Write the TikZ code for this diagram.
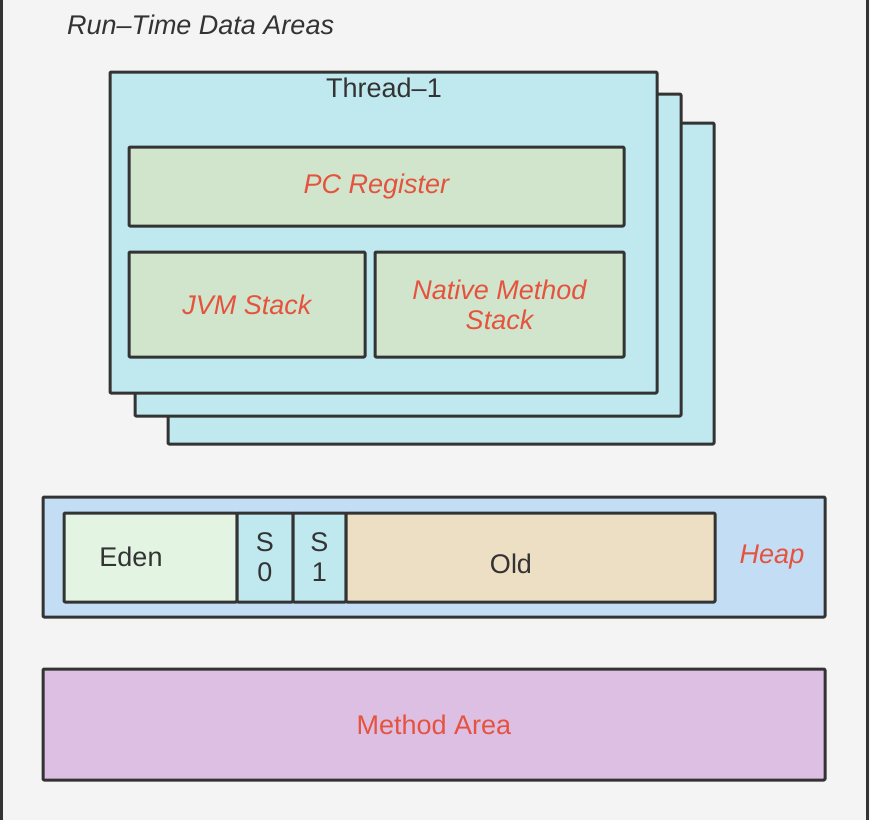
\documentclass[tikz,border=0pt]{standalone}
\usepackage{fontspec}
\setmainfont{Liberation Sans}
\definecolor{bgc}{HTML}{F4F4F4}
\definecolor{linec}{HTML}{333333}
\definecolor{threadc}{HTML}{BFE9EF}
\definecolor{regc}{HTML}{D0E5CC}
\definecolor{edenc}{HTML}{E3F4E3}
\definecolor{oldc}{HTML}{EDDFC4}
\definecolor{heapc}{HTML}{C3DDF5}
\definecolor{methc}{HTML}{DCBFE3}
\definecolor{redc}{HTML}{E5533F}
\tikzset{
  box/.style={draw=linec, line width=3pt, rounded corners=1pt, inner sep=0pt},
  txt/.style={text=linec, font=\fontsize{27}{30}\selectfont, align=center, inner sep=0pt},
  redtxt/.style={txt, text=redc},
  ittxt/.style={redtxt, font=\fontsize{27}{30}\selectfont\itshape},
}
\begin{document}
\begin{tikzpicture}[x=1pt, y=-1pt, line join=round]
	\fill[bgc] (0,0) rectangle (870,820);
	\useasboundingbox (0,0) rectangle (870,820);
	\draw[linec, line width=3pt] (1.5,0)--(1.5,820);
	\draw[linec, line width=3pt] (867,0)--(867,820);
	\node[txt, anchor=west, font=\fontsize{27}{30}\selectfont\itshape] (title) at (67,25) {Run–Time Data Areas};
	% threads
	\node[box, fill=threadc, minimum width=546pt, minimum height=321pt] (t3) at (441,283.5) {};
	\node[box, fill=threadc, minimum width=546pt, minimum height=322pt] (t2) at (408,255) {};
	\node[box, fill=threadc, minimum width=547pt, minimum height=321pt] (t1) at (383.5,232.5) {};
	\node[txt] (tname) at (384,88) {Thread–1};
	\node[box, fill=regc, minimum width=495pt, minimum height=79pt] (pc) at (376.5,186.5) {};
	\node[ittxt] at (pc) {PC Register};
	\node[box, fill=regc, minimum width=236pt, minimum height=105pt] (jvm) at (247,304.5) {};
	\node[ittxt] at (jvm) {JVM Stack};
	\node[box, fill=regc, minimum width=249pt, minimum height=105pt] (nat) at (499.5,304.5) {};
	\node[ittxt] at (nat) {Native Method\\Stack};
	% heap
	\node[box, fill=heapc, minimum width=782pt, minimum height=120pt] (heap) at (434,557) {};
	\node[ittxt] (hname) at (772,557) {Heap};
	\node[box, fill=edenc, minimum width=173pt, minimum height=89pt] (eden) at (150.5,557.5) {};
	\node[txt] (ename) at (131,557) {Eden};
	\node[box, fill=threadc, minimum width=56pt, minimum height=89pt] (s0) at (265,557.5) {};
	\node[txt] at (s0) {S\\0};
	\node[box, fill=threadc, minimum width=53pt, minimum height=89pt] (s1) at (319.5,557.5) {};
	\node[txt] at (s1) {S\\1};
	\node[box, fill=oldc, minimum width=369pt, minimum height=89pt] (old) at (530.5,557.5) {};
	\node[txt] (oname) at (511,564) {Old};
	% method area
	\node[box, fill=methc, minimum width=782pt, minimum height=111pt] (meth) at (434,724.5) {};
	\node[redtxt] at (meth) {Method Area};
\end{tikzpicture}
\end{document}
